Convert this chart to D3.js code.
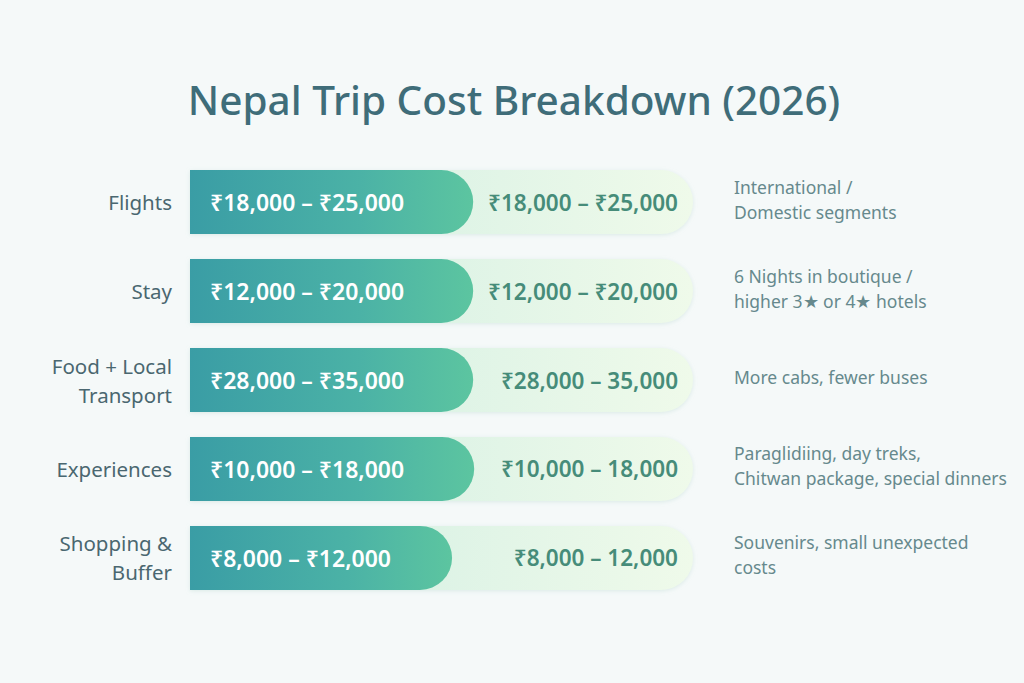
<!DOCTYPE html>
<html>
<head>
<meta charset="utf-8">
<script src="https://cdn.jsdelivr.net/npm/d3@7"></script>
<style>
  html, body { margin: 0; padding: 0; background: #f5f9f9; }
  svg { display: block; font-family: "Noto Sans", "Open Sans", sans-serif; }
</style>
</head>
<body>
<svg id="chart" width="1024" height="683"></svg>
<script>
// Nepal trip cost breakdown — rounded "pill" bars with range labels
// ------------------------------------------------------------------

const title = "Nepal Trip Cost Breakdown (2026)";

// Row labels (multi-line split on "|")
const categories = ["Flights", "Stay", "Food + Local|Transport", "Experiences", "Shopping &|Buffer"];

// Range text inside the dark bar / on the light track
const innerRanges = ["₹18,000 – ₹25,000", "₹12,000 – ₹20,000", "₹28,000 – ₹35,000", "₹10,000 – ₹18,000", "₹8,000 – ₹12,000"];
const outerRanges = ["₹18,000 – ₹25,000", "₹12,000 – ₹20,000", "₹28,000 – 35,000", "₹10,000 – 18,000", "₹8,000 – 12,000"];

// Share of the track filled by the dark bar
const fillShare = [0.563, 0.563, 0.563, 0.565, 0.521];

// Notes on the right
const notes = [
  "International /|Domestic segments",
  "6 Nights in boutique /|higher 3★ or 4★ hotels",
  "More cabs, fewer buses",
  "Paraglidiing, day treks,|Chitwan package, special dinners",
  "Souvenirs, small unexpected|costs"
];

const svg = d3.select("#chart");

// Gradients --------------------------------------------------------
const defs = svg.append("defs");
const gDark = defs.append("linearGradient").attr("id", "gDark");
gDark.append("stop").attr("offset", "0%").attr("stop-color", "#3a9da5");
gDark.append("stop").attr("offset", "60%").attr("stop-color", "#4bb2a6");
gDark.append("stop").attr("offset", "100%").attr("stop-color", "#5cc5a0");
const gLight = defs.append("linearGradient").attr("id", "gLight");
gLight.append("stop").attr("offset", "0%").attr("stop-color", "#cdede2");
gLight.append("stop").attr("offset", "100%").attr("stop-color", "#effaea");
const shadow = defs.append("filter").attr("id", "soft")
  .attr("x", "-5%").attr("y", "-20%").attr("width", "110%").attr("height", "140%");
shadow.append("feDropShadow").attr("dx", 0).attr("dy", 1).attr("stdDeviation", 2)
  .attr("flood-color", "#9cc9bd").attr("flood-opacity", 0.3);

// Scales -----------------------------------------------------------
const x = d3.scaleLinear().domain([0, 1]).range([190, 693]);
const y = d3.scaleBand().domain(categories).range([170, 590]).paddingInner(0.28);
const bh = y.bandwidth(), r = bh / 2;

// pill with square left end and round right end
function pill(x0, x1, y0) {
  return `M${x0},${y0}H${x1 - r}A${r},${r} 0 0 1 ${x1 - r},${y0 + bh}H${x0}Z`;
}

// Title ------------------------------------------------------------
svg.append("text")
  .attr("x", 514).attr("y", 115)
  .attr("text-anchor", "middle")
  .attr("fill", "#3f6d79")
  .style("font-size", "40.5px")
  .style("font-weight", 500)
  .text(title);

const rows = svg.selectAll("g.row")
  .data(categories.map((c, i) => ({
    cat: c, inner: innerRanges[i], outer: outerRanges[i], share: fillShare[i], note: notes[i]
  })))
  .join("g").attr("class", "row");

// track + bar
rows.append("path")
  .attr("d", d => pill(x(0), x(1), y(d.cat)))
  .attr("fill", "url(#gLight)")
  .attr("filter", "url(#soft)");

rows.append("path")
  .attr("d", d => pill(x(0), x(d.share), y(d.cat)))
  .attr("fill", "url(#gDark)");

// multi-line text helper
function lines(sel, str, lh) {
  const parts = str.split("|");
  parts.forEach((p, i) => {
    sel.append("tspan")
      .attr("x", sel.attr("x"))
      .attr("dy", i === 0 ? (-(parts.length - 1) * lh / 2) + "px" : lh + "px")
      .text(p);
  });
}

// labels
rows.append("text")
  .attr("x", 172)
  .attr("y", d => y(d.cat) + bh / 2)
  .attr("text-anchor", "end")
  .attr("dominant-baseline", "central")
  .attr("fill", "#4a6770")
  .style("font-size", "20.5px")
  .each(function(d) { lines(d3.select(this), d.cat, 29); });

// range inside dark bar
rows.append("text")
  .attr("x", x(0) + 20)
  .attr("y", d => y(d.cat) + bh / 2)
  .attr("dominant-baseline", "central")
  .attr("fill", "#ffffff")
  .style("font-size", "23px")
  .style("font-weight", 600)
  .text(d => d.inner);

// range on the light track
rows.append("text")
  .attr("x", x(1) - 15)
  .attr("y", d => y(d.cat) + bh / 2)
  .attr("text-anchor", "end")
  .attr("dominant-baseline", "central")
  .attr("fill", "#468c79")
  .style("font-size", "22.5px")
  .style("font-weight", 600)
  .text(d => d.outer);

// notes
rows.append("text")
  .attr("x", 734)
  .attr("y", d => y(d.cat) + bh / 2 - 3)
  .attr("dominant-baseline", "central")
  .attr("fill", "#66898d")
  .style("font-size", "17.5px")
  .each(function(d) { lines(d3.select(this), d.note, 25); });
</script>
</body>
</html>
